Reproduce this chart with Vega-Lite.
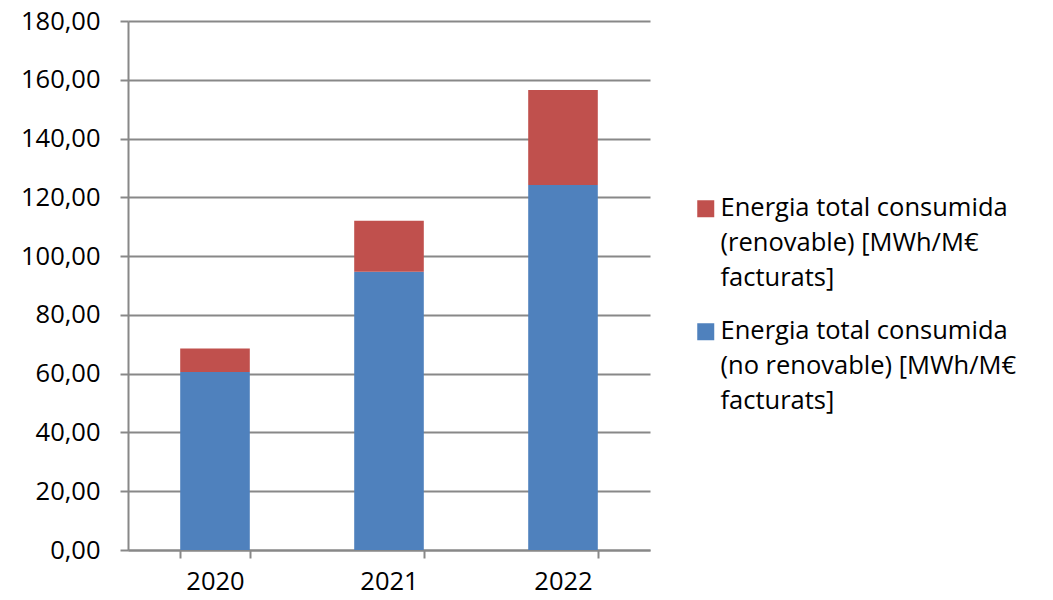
{
  "$schema": "https://vega.github.io/schema/vega-lite/v6.json",
  "width": 522,
  "height": 529,
  "autosize": {"type": "none"},
  "padding": {"left": 128, "top": 21, "right": 403, "bottom": 50},
  "background": "white",
  "config": {
    "locale": {"number": {"decimal": ",", "thousands": ".", "grouping": [3], "currency": ["", " €"]}},
    "font": "Open Sans",
    "view": {"stroke": null}
  },
  "data": {
    "values": [
      {"year": "2020", "serie": "Energia total consumida (no renovable) [MWh/M€ facturats]", "ord": 1, "value": 60.6},
      {"year": "2020", "serie": "Energia total consumida (renovable) [MWh/M€ facturats]", "ord": 2, "value": 8.0},
      {"year": "2021", "serie": "Energia total consumida (no renovable) [MWh/M€ facturats]", "ord": 1, "value": 94.7},
      {"year": "2021", "serie": "Energia total consumida (renovable) [MWh/M€ facturats]", "ord": 2, "value": 17.3},
      {"year": "2022", "serie": "Energia total consumida (no renovable) [MWh/M€ facturats]", "ord": 1, "value": 124.2},
      {"year": "2022", "serie": "Energia total consumida (renovable) [MWh/M€ facturats]", "ord": 2, "value": 32.3}
    ]
  },
  "mark": {"type": "bar"},
  "encoding": {
    "x": {
      "field": "year",
      "type": "nominal",
      "scale": {"paddingInner": 0.6, "paddingOuter": 0.3},
      "axis": {
        "title": null,
        "labelAngle": 0,
        "labelFont": "Open Sans",
        "labelFontSize": 25.5,
        "labelColor": "#000000",
        "labelPadding": 11,
        "tickBand": "extent",
        "tickSize": 8,
        "tickColor": "#888888",
        "tickWidth": 2,
        "domainColor": "#888888",
        "domainWidth": 2,
        "grid": false
      }
    },
    "y": {
      "field": "value",
      "type": "quantitative",
      "stack": "zero",
      "scale": {"domain": [0, 180], "nice": false},
      "axis": {
        "title": null,
        "values": [0, 20, 40, 60, 80, 100, 120, 140, 160, 180],
        "format": ".2f",
        "labelFont": "Open Sans",
        "labelFontSize": 25.5,
        "labelColor": "#000000",
        "labelPadding": 20,
        "tickSize": 8,
        "tickColor": "#888888",
        "tickWidth": 2,
        "domainColor": "#888888",
        "domainWidth": 2,
        "grid": true,
        "gridColor": "#888888",
        "gridWidth": 2
      }
    },
    "color": {
      "field": "serie",
      "type": "nominal",
      "scale": {
        "domain": [
          "Energia total consumida (renovable) [MWh/M€ facturats]",
          "Energia total consumida (no renovable) [MWh/M€ facturats]"
        ],
        "range": ["#C0504D", "#4F81BD"]
      },
      "legend": {
        "title": null,
        "orient": "none",
        "legendX": 565,
        "legendY": 175,
        "padding": 0,
        "symbolType": "square",
        "symbolSize": 289,
        "symbolStrokeWidth": 0,
        "labelFont": "Open Sans",
        "labelFontSize": 25.5,
        "labelColor": "#000000",
        "labelOffset": 2,
        "labelLimit": 400,
        "labelBaseline": "top",
        "rowPadding": 26,
        "labelExpr": "indexof(datum.label, '(no renovable)') >= 0 ? ['Energia total consumida', '(no renovable) [MWh/M€', 'facturats]'] : ['Energia total consumida', '(renovable) [MWh/M€', 'facturats]']",
        "encode": {"labels": {"update": {"lineHeight": {"value": 35}, "dy": {"value": -13}}}}
      }
    },
    "order": {"field": "ord", "type": "quantitative"}
  }
}
